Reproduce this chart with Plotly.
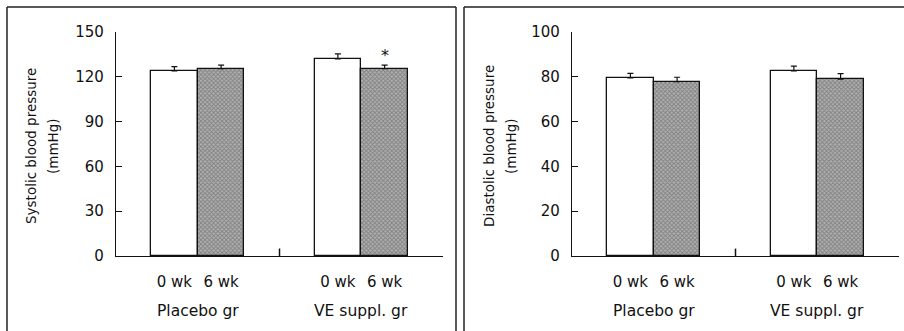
import plotly.graph_objects as go

# ---- data ----
group_labels = ["Placebo gr", "VE suppl. gr"]
week_labels = ["0 wk", "6 wk", "0 wk", "6 wk"]
bar_pos = [1.0, 2.0, 4.5, 5.5]
group_pos = [1.5, 5.0]

sys_mean = [124, 125.5, 132, 125.5]
sys_se = [2.8, 2.3, 3.3, 2.3]
dia_mean = [79.5, 77.8, 82.6, 79.0]
dia_se = [2.0, 2.0, 2.2, 2.4]

sys_ticks = [0, 30, 60, 90, 120, 150]
dia_ticks = [0, 20, 40, 60, 80, 100]

W, H = 904, 331
FONT = "DejaVu Sans"
FS = 15

def px(x):
    return x / W

def py(y):
    return 1 - y / H

fig = go.Figure()

fills = ["white", "#a0a0a0", "white", "#a0a0a0"]
patterns = ["", "x", "", "x"]

def add_bars(means, ses, xa, ya):
    for i in range(4):
        fig.add_trace(go.Bar(
            x=[bar_pos[i]], y=[means[i]], width=1.0,
            xaxis=xa, yaxis=ya,
            marker=dict(color=fills[i], line=dict(color="#111", width=1.3),
                        pattern=dict(shape=patterns[i], fgcolor="#505050",
                                     bgcolor="#b0b0b0", size=3, solidity=0.5)),
            error_y=dict(type="data", array=[ses[i]], arrayminus=[0], symmetric=False,
                         color="#111", thickness=1.2, width=3),
            showlegend=False,
        ))

add_bars(sys_mean, sys_se, "x", "y")
add_bars(dia_mean, dia_se, "x2", "y2")

ydom = [py(256), py(32)]
common_x = dict(range=[-0.25, 6.75], showgrid=False, zeroline=False,
                showline=True, linecolor="#111", linewidth=1.3,
                tickmode="array", tickvals=bar_pos, ticktext=week_labels,
                ticks="", ticklabelstandoff=12, automargin=False,
                tickfont=dict(family=FONT, size=15, color="#111"))
common_y = dict(showgrid=False, zeroline=False, showline=True, linecolor="#111",
                linewidth=1.3, ticks="inside", ticklen=6, tickcolor="#111",
                ticklabelstandoff=8, automargin=False,
                tickfont=dict(family=FONT, size=15, color="#111"))

fig.update_layout(
    width=W, height=H, margin=dict(l=0, r=0, t=0, b=0, pad=0, autoexpand=False),
    paper_bgcolor="white", plot_bgcolor="white", bargap=0,
    xaxis=dict(domain=[px(116), px(443)], anchor="y", **common_x),
    yaxis=dict(domain=ydom, anchor="x", range=[0, 150], tickvals=sys_ticks, **common_y),
    xaxis2=dict(domain=[px(572), px(899)], anchor="y2", **common_x),
    yaxis2=dict(domain=ydom, anchor="x2", range=[0, 100], tickvals=dia_ticks, **common_y),
    font=dict(family=FONT, size=FS, color="#111"),
)

# group labels
for xa in ["x", "x2"]:
    for g, gx in zip(group_labels, group_pos):
        fig.add_annotation(x=gx, xref=xa, y=py(311), yref="paper", text=g,
                           showarrow=False, font=dict(family=FONT, size=15.5, color="#111"),
                           xanchor="center", yanchor="middle")

# y titles
for cx, lines in [(31, ["Systolic blood pressure", "(mmHg)"]),
                  (489, ["Diastolic blood pressure", "(mmHg)"])]:
    for k, t in enumerate(lines):
        fig.add_annotation(x=px(cx + 22 * k), xref="paper", y=py(146), yref="paper",
                           text=t, textangle=-90, showarrow=False,
                           font=dict(family=FONT, size=13.5, color="#111"),
                           xanchor="center", yanchor="middle")

# significance asterisk
fig.add_annotation(x=bar_pos[3], xref="x", y=sys_mean[3] + sys_se[3] - 1, yref="y",
                   text="*", showarrow=False, yanchor="bottom",
                   font=dict(family=FONT, size=16, color="#111"))

# axis break ticks
fig.add_shape(type="line", xref="x", yref="y", x0=3.25, x1=3.25, y0=0, y1=5,
              line=dict(color="#111", width=1.5))
fig.add_shape(type="line", xref="x2", yref="y2", x0=3.25, x1=3.25, y0=0, y1=3.3,
              line=dict(color="#111", width=1.5))

# panel frames
for x0, x1 in [(7, 456), (464, 906)]:
    fig.add_shape(type="line", xref="paper", yref="paper", x0=px(x0), x1=px(x1),
                  y0=py(7), y1=py(7), line=dict(color="#222", width=1.3))
    fig.add_shape(type="line", xref="paper", yref="paper", x0=px(x0), x1=px(x0),
                  y0=py(7), y1=py(335), line=dict(color="#222", width=1.5))
fig.add_shape(type="line", xref="paper", yref="paper", x0=px(456), x1=px(456),
              y0=py(7), y1=py(335), line=dict(color="#222", width=1.5))

fig.write_html("out.html")
